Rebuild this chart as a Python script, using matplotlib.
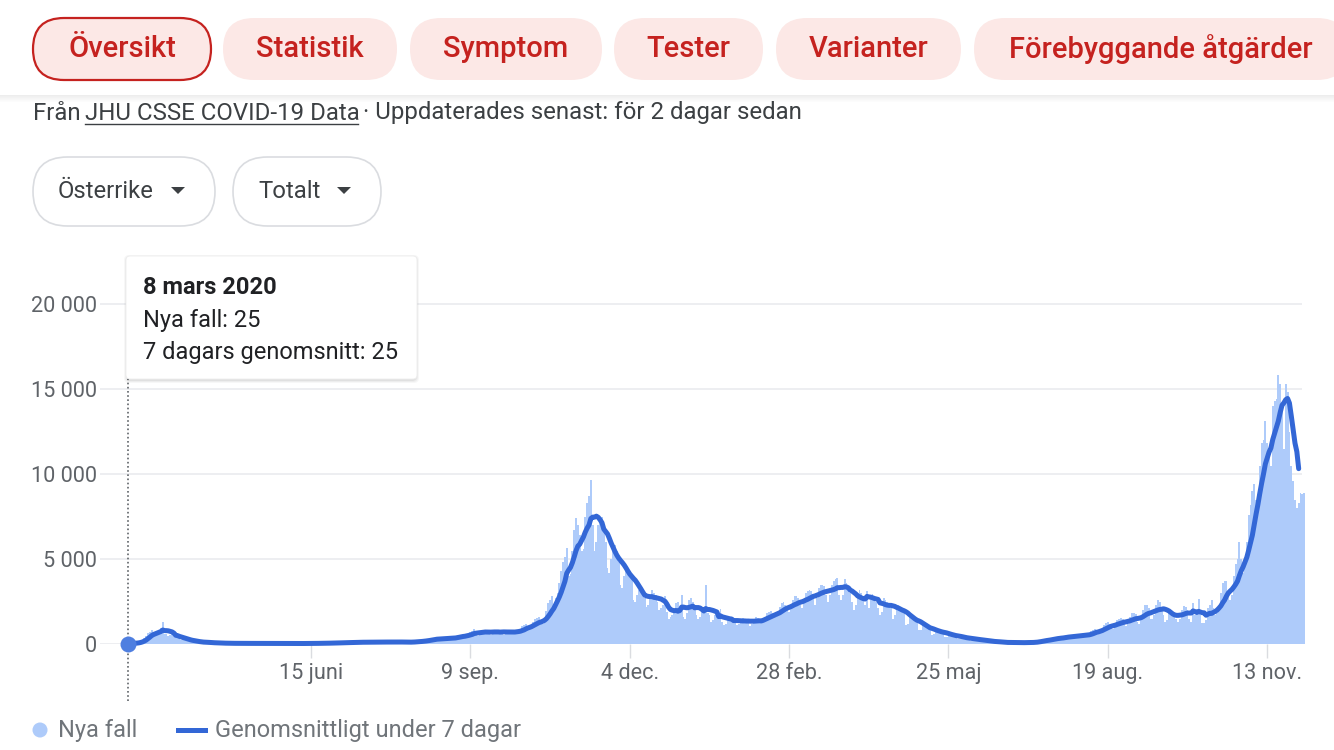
import numpy as np
import pandas as pd
import matplotlib
matplotlib.use("Agg")
import matplotlib.pyplot as plt
from matplotlib.patches import FancyBboxPatch, Circle, Polygon

plt.rcParams['font.family'] = ['Roboto', 'DejaVu Sans']

# ---- data: Österrike, nya fall per dag (JHU CSSE), en rad per vecka sön-lör ----
start_date = "2020-03-08"
new_cases = [
    25, 22, 45, 60, 65, 95, 150,
    180, 250, 380, 500, 650, 700, 800,
    620, 560, 720, 800, 950, 1310, 560,
    600, 480, 520, 560, 450, 420, 400,
    300, 240, 280, 300, 220, 200, 180,
    110, 100, 130, 140, 120, 100, 90,
    80, 60, 75, 80, 70, 60, 55,
    45, 40, 50, 48, 42, 40, 35,
    30, 35, 45, 50, 40, 38, 30,
    28, 30, 40, 45, 38, 35, 30,
    25, 28, 42, 40, 36, 30, 28,
    22, 25, 35, 38, 32, 30, 25,
    20, 24, 36, 35, 30, 28, 26,
    22, 25, 32, 38, 35, 30, 28,
    28, 32, 45, 48, 42, 40, 35,
    40, 45, 60, 65, 58, 55, 50,
    55, 65, 85, 95, 90, 85, 75,
    70, 80, 110, 120, 115, 105, 95,
    80, 95, 120, 130, 125, 110, 100,
    85, 95, 130, 140, 125, 115, 110,
    90, 100, 135, 150, 130, 120, 110,
    80, 90, 120, 135, 125, 115, 100,
    100, 130, 170, 190, 180, 190, 170,
    200, 230, 290, 320, 330, 320, 290,
    250, 280, 350, 370, 360, 380, 330,
    300, 330, 420, 500, 520, 540, 480,
    400, 480, 600, 700, 750, 870, 650,
    500, 550, 750, 800, 820, 850, 600,
    520, 600, 780, 820, 800, 780, 650,
    550, 600, 750, 800, 810, 780, 640,
    650, 700, 900, 1050, 1100, 1200, 1000,
    900, 1000, 1300, 1450, 1550, 1600, 1250,
    1200, 1400, 1950, 2400, 2600, 2800, 2300,
    2700, 3000, 3600, 4300, 4800, 5100, 5630,
    4000, 4100, 5500, 6700, 7400, 7000, 6400,
    5500, 5600, 7500, 8300, 8700, 9640, 7000,
    5500, 6000, 7000, 7300, 7500, 7000, 6000,
    4500, 4200, 5000, 5600, 5800, 5500, 4800,
    3500, 3300, 4000, 4400, 4500, 4300, 3900,
    2600, 2500, 2900, 3200, 3300, 3000, 2700,
    2200, 2300, 2800, 3200, 3000, 2900, 2500,
    2000, 2100, 2300, 2800, 1900, 1500, 1600,
    1700, 1900, 2400, 2500, 2200, 2900, 1600,
    1500, 1800, 2600, 2700, 2500, 2200, 1700,
    1500, 1600, 2000, 2100, 3500, 1800, 1700,
    1300, 1400, 1700, 1800, 1600, 2075, 1300,
    1100, 1200, 1500, 1600, 1500, 1450, 1300,
    1100, 1150, 1450, 1550, 1500, 1400, 1300,
    1050, 1150, 1450, 1600, 1550, 1450, 1250,
    1300, 1500, 1800, 1900, 1950, 1850, 1600,
    1600, 1800, 2200, 2400, 2500, 2300, 2000,
    1900, 2100, 2600, 2800, 2800, 2700, 2300,
    2100, 2400, 3000, 3100, 3200, 3100, 2700,
    2300, 2700, 3300, 3500, 3500, 3400, 2900,
    2500, 2900, 3500, 3700, 3800, 3900, 2900,
    2600, 2900, 3800, 3600, 3400, 3000, 2500,
    2000, 2300, 3000, 3200, 3000, 2700, 2300,
    3100, 2100, 2900, 2950, 2700, 2500, 2100,
    1700, 1900, 2700, 2600, 2500, 2400, 2100,
    1500, 1700, 2300, 2300, 2100, 2000, 1800,
    1100, 1200, 1600, 1700, 1500, 1400, 1300,
    800, 850, 1100, 1150, 1000, 950, 850,
    550, 600, 800, 850, 750, 700, 650,
    400, 420, 560, 600, 550, 500, 450,
    280, 300, 400, 420, 380, 350, 320,
    190, 210, 280, 300, 270, 260, 230,
    120, 130, 170, 180, 160, 150, 140,
    75, 80, 105, 110, 100, 95, 85,
    60, 65, 90, 95, 85, 80, 75,
    65, 70, 100, 110, 105, 100, 95,
    110, 140, 200, 240, 260, 250, 220,
    220, 260, 350, 380, 400, 390, 340,
    300, 340, 480, 510, 500, 480, 420,
    380, 420, 560, 600, 580, 560, 520,
    450, 520, 750, 850, 900, 850, 700,
    700, 800, 1100, 1250, 1300, 1200, 1000,
    900, 1000, 1400, 1500, 1550, 1450, 1200,
    1050, 1200, 1600, 1800, 1800, 1750, 1300,
    1200, 1400, 2000, 2300, 2300, 2100, 1500,
    1500, 1700, 2300, 2600, 2500, 2200, 1700,
    1300, 1400, 1900, 2000, 1900, 1800, 1500,
    1300, 1500, 2000, 2250, 2200, 2000, 1500,
    1300, 2390, 1700, 1900, 2650, 1700, 1250,
    1250, 1400, 2100, 2300, 2590, 2100, 1700,
    1800, 2200, 3000, 3600, 3690, 3700, 3000,
    2600, 2900, 4000, 4700, 5000, 5980, 5000,
    4200, 4800, 6000, 7600, 8200, 9000, 9400,
    8500, 8800, 10500, 11800, 12000, 13100, 11800,
    11000, 10500, 14000, 14300, 14400, 15800, 15300,
    14000, 11500, 15300, 14800, 12500, 10500, 9600,
    8500, 8000, 8300, 8900, 8800, 8900,
]
avg_days_shown = 633  # the average line stops a few days before the bars

y_ticks = [0, 5000, 10000, 15000, 20000]
x_tick_dates = ["2020-06-15", "2020-09-09", "2020-12-04", "2021-02-28",
                "2021-05-25", "2021-08-19", "2021-11-13"]
x_tick_labels = ["15 juni", "9 sep.", "4 dec.", "28 feb.", "25 maj", "19 aug.", "13 nov."]

tabs = ["Översikt", "Statistik", "Symptom", "Tester", "Varianter", "Förebyggande åtgärder"]
tab_edges = [(33, 211), (223, 397), (410, 602), (614, 763), (776, 961), (974, 1348)]

# ---- colours ----
RED = "#c5221f"
PINK = "#fce8e6"
BAR = "#aecbfa"
LINE = "#3367d6"
DOT = "#4f7fe0"
TXT = "#3c4043"
AXTXT = "#5f6368"
GRID = "#e8eaed"

W, H = 1334, 750
dates = pd.date_range(start_date, periods=len(new_cases), freq="D")
cases = pd.Series(new_cases, index=dates)
avg7 = cases.rolling(7, min_periods=1).mean()

fig = plt.figure(figsize=(W / 100, H / 100), dpi=100)
fig.patch.set_facecolor("white")

# full-figure axes in pixel units for the page chrome
ui = fig.add_axes([0, 0, 1, 1], label="ui")
ui.set_xlim(0, W)
ui.set_ylim(H, 0)
ui.axis("off")


def pill(a, x0, x1, y0, y1, fc, ec="none", lw=0, z=1):
    r = (y1 - y0) / 2
    a.add_patch(FancyBboxPatch((x0, y0), x1 - x0, y1 - y0,
                               boxstyle=f"round,pad=0,rounding_size={r}",
                               fc=fc, ec=ec, lw=lw, zorder=z))


# tabs
for i, (name, (x0, x1)) in enumerate(zip(tabs, tab_edges)):
    if i == 0:
        pill(ui, x0, x1, 18, 80, PINK, RED, 1.6)
    else:
        pill(ui, x0, x1, 18, 80, PINK)
    ui.text((x0 + x1) / 2, 49, name, color=RED, fontsize=21,
            fontweight="medium", ha="center", va="center", zorder=3)

# header shadow
for i in range(7):
    ui.fill_between([0, W], 95 + i, 96 + i, color="black",
                    alpha=0.07 * (1 - i / 7), lw=0, zorder=2)

# source line
ui.text(33, 113, "Från", color=TXT, fontsize=17.3, va="center")
ui.text(85, 113, "JHU CSSE COVID-19 Data", color=TXT, fontsize=17.3, va="center")
ui.plot([85, 358], [124, 124], color=TXT, lw=1)
ui.text(363, 113, "· Uppdaterades senast: för 2 dagar sedan", color=TXT,
        fontsize=17.3, va="center")

# dropdowns
for (x0, x1), label, tx, tri in [((33, 215), "Österrike", 58, 171),
                                 ((233, 381), "Totalt", 258, 337)]:
    pill(ui, x0, x1, 157, 226, "white", "#dadce0", 1.2)
    ui.text(tx, 192, label, color=TXT, fontsize=17.2, va="center")
    ui.add_patch(Polygon([(tri, 187), (tri + 14, 187), (tri + 7, 194)],
                         closed=True, fc=TXT, ec="none"))

# ---- chart ----
px_per_day = 1.853
x0_px = 127.6          # pixel of first day
ax_left, ax_right = 100, 1302
ax_bottom, ax_top = 644, 290
px_per_case = 0.017

ax = fig.add_axes([ax_left / W, 1 - ax_bottom / H,
                   (ax_right - ax_left) / W, (ax_bottom - ax_top) / H], label="chart")
ax.patch.set_alpha(0)
ax.set_xlim(dates[0] - pd.Timedelta(days=(x0_px - ax_left) / px_per_day),
            dates[0] + pd.Timedelta(days=(ax_right - x0_px) / px_per_day))
ax.set_ylim(0, (ax_bottom - ax_top) / px_per_case)

ax.bar(dates, cases.values, width=1.0, color=BAR, lw=0, zorder=2, clip_on=False)
ax.plot(dates[:avg_days_shown], avg7.values[:avg_days_shown], color=LINE, lw=3.6,
        solid_joinstyle="round", solid_capstyle="round", zorder=3, clip_on=False)

ax.set_yticks(y_ticks)
ax.set_yticklabels([f"{v:,}".replace(",", " ") for v in y_ticks])
ax.yaxis.grid(True, color=GRID, lw=1.1)
ax.set_axisbelow(True)
ax.set_xticks(pd.to_datetime(x_tick_dates))
ax.set_xticklabels(x_tick_labels)
ax.tick_params(axis="y", length=0, pad=2, labelsize=15.6, labelcolor=AXTXT)
ax.tick_params(axis="x", length=10, width=1, color="#dadce0", pad=4,
               labelsize=15.6, labelcolor=AXTXT)
for s in ax.spines.values():
    s.set_visible(False)

# hover marker
ax.axvline(dates[0], ymin=-0.16, ymax=1.0, color="#5f6368", lw=1.2, ls=(0, (1, 1.5)),
           clip_on=False, zorder=4)
ax.plot(dates[0], avg7.values[0], "o", ms=11.5, color=DOT, mec="none",
        clip_on=False, zorder=6)

# ---- tooltip + legend overlay ----
top = fig.add_axes([0, 0, 1, 1], label="overlay", zorder=5)
top.set_xlim(0, W)
top.set_ylim(H, 0)
top.axis("off")

for i, al in enumerate([0.05, 0.04, 0.03]):
    top.add_patch(FancyBboxPatch((126 - i, 257 - i), 291 + 2 * i, 124 + 2 * i,
                                 boxstyle="round,pad=0,rounding_size=5",
                                 fc="black", alpha=al, ec="none", zorder=1))
top.add_patch(FancyBboxPatch((126, 256), 291, 123, boxstyle="round,pad=0,rounding_size=4",
                             fc="white", ec="#ececec", lw=0.6, zorder=2))
tip_day = dates[0]
month_sv = {3: "mars"}
top.text(143, 287, f"{tip_day.day} {month_sv[tip_day.month]} {tip_day.year}",
         fontsize=17, fontweight="bold", color="#202124", va="center", zorder=3)
top.text(143, 320, f"Nya fall: {new_cases[0]}", fontsize=17, color="#202124",
         va="center", zorder=3)
top.text(143, 352, f"7 dagars genomsnitt: {avg7.values[0]:.0f}", fontsize=17,
         color="#202124", va="center", zorder=3)

# legend
top.add_patch(Circle((40, 730), 7.5, fc=BAR, ec="none"))
top.text(58, 731, "Nya fall", fontsize=17, color="#70757a", va="center")
top.plot([178, 205], [730, 730], color=LINE, lw=3.6)
top.text(215, 731, "Genomsnittligt under 7 dagar", fontsize=17, color="#70757a",
         va="center")

fig.savefig("out.png", dpi=100, facecolor="white")
